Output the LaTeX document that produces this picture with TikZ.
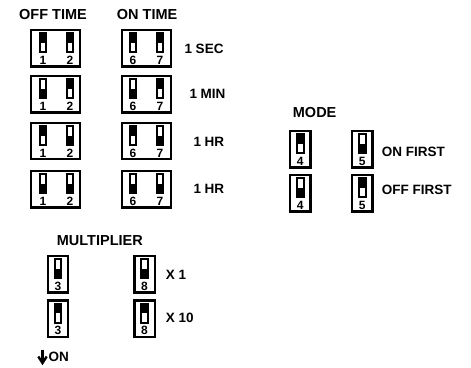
\documentclass[tikz,border=0pt]{standalone}
\usepackage{fontspec}
\setmainfont{Liberation Sans}

\tikzset{
  dipbox/.style={draw, line width=2.2pt, inner sep=0pt, anchor=north west},
  dualbox/.style={dipbox, minimum width=48.5pt, minimum height=36.3pt},
  singlebox/.style={dipbox, minimum width=20.3pt, minimum height=36.3pt},
  dipnum/.style={font=\fontsize{12}{12}\selectfont\bfseries, inner sep=0pt},
  heading/.style={font=\fontsize{14.5}{15}\selectfont\bfseries, inner sep=0pt, anchor=west},
  setting/.style={font=\fontsize{13.5}{14}\selectfont\bfseries, inner sep=0pt, anchor=west},
}

% box name, x offset in the box, 0 = black up / 1 = black down, number
\newcommand{\dipslider}[4]{%
  \begin{scope}[shift={(#1.north west)}]
    \fill (#2-3.3,4.3+#3*9.5) rectangle (#2+3.3,13.8+#3*9.5);
    \draw[line width=2pt] (#2-3.3,4.3) rectangle (#2+3.3,23.3);
    \node[dipnum] (#1n#4) at (#2,31.4) {#4};
  \end{scope}%
}

\begin{document}
\begin{tikzpicture}[x=1pt,y=-1pt]
    \useasboundingbox (0,0) rectangle (471,367);

    % Headings
    \node[heading] (offtime) at (19,15) {OFF TIME};
    \node[heading] (ontime) at (116.7,15) {ON TIME};
    \node[heading] (mode) at (292.7,113) {MODE};
    \node[heading] (multiplier) at (56.7,240.7) {MULTIPLIER};

    % OFF TIME / ON TIME boxes
    \node[dualbox] (offa) at (30,29) {};
    \node[dualbox] (ona) at (121,29) {};
    \node[dualbox] (offb) at (30,75) {};
    \node[dualbox] (onb) at (121,75) {};
    \node[dualbox] (offc) at (30,121.7) {};
    \node[dualbox] (onc) at (121,121.7) {};
    \node[dualbox] (offd) at (30,170) {};
    \node[dualbox] (ond) at (121,170) {};

    % 1 SEC
    \dipslider{offa}{13}{0}{1}
    \dipslider{offa}{40}{0}{2}
    \dipslider{ona}{12}{0}{6}
    \dipslider{ona}{39}{0}{7}
    % 1 MIN
    \dipslider{offb}{13}{1}{1}
    \dipslider{offb}{40}{0}{2}
    \dipslider{onb}{12}{1}{6}
    \dipslider{onb}{39}{0}{7}
    % 1 HR
    \dipslider{offc}{13}{0}{1}
    \dipslider{offc}{40}{1}{2}
    \dipslider{onc}{12}{0}{6}
    \dipslider{onc}{39}{1}{7}
    % 1 HR
    \dipslider{offd}{13}{1}{1}
    \dipslider{offd}{40}{1}{2}
    \dipslider{ond}{12}{1}{6}
    \dipslider{ond}{39}{1}{7}

    \node[setting] (sec) at (184.3,48.5) {1 SEC};
    \node[setting] (min) at (189.3,93.5) {1 MIN};
    \node[setting] (hra) at (193.3,141.5) {1 HR};
    \node[setting] (hrb) at (193.3,189) {1 HR};

    % MODE boxes
    \node[singlebox] (modea) at (289,130) {};
    \node[singlebox] (modeb) at (351,130) {};
    \node[singlebox] (modec) at (289,174) {};
    \node[singlebox] (moded) at (351,174) {};
    \dipslider{modea}{11.25}{0}{4}
    \dipslider{modeb}{11.25}{1}{5}
    \dipslider{modec}{11.25}{1}{4}
    \dipslider{moded}{11.25}{0}{5}
    \node[setting] (onfirst) at (381.7,152) {ON FIRST};
    \node[setting] (offfirst) at (381.7,190) {OFF FIRST};

    % MULTIPLIER boxes
    \node[singlebox] (multa) at (46.7,255) {};
    \node[singlebox] (multb) at (133.3,255) {};
    \node[singlebox] (multc) at (46.7,299.3) {};
    \node[singlebox] (multd) at (133.3,299.3) {};
    \dipslider{multa}{11.25}{1}{3}
    \dipslider{multb}{11.25}{1}{8}
    \dipslider{multc}{11.25}{0}{3}
    \dipslider{multd}{11.25}{0}{8}
    \node[setting] (xone) at (165.7,275) {X 1};
    \node[setting] (xten) at (165.7,318) {X 10};

    % ON arrow
    \draw[line width=2.4pt] (42.5,349.5) -- (42.5,363);
    \draw[line width=2.4pt] (38.3,356.5) -- (42.5,363) -- (46.7,356.5);
    \node[setting] (on) at (48.3,357) {ON};

\end{tikzpicture}
\end{document}
